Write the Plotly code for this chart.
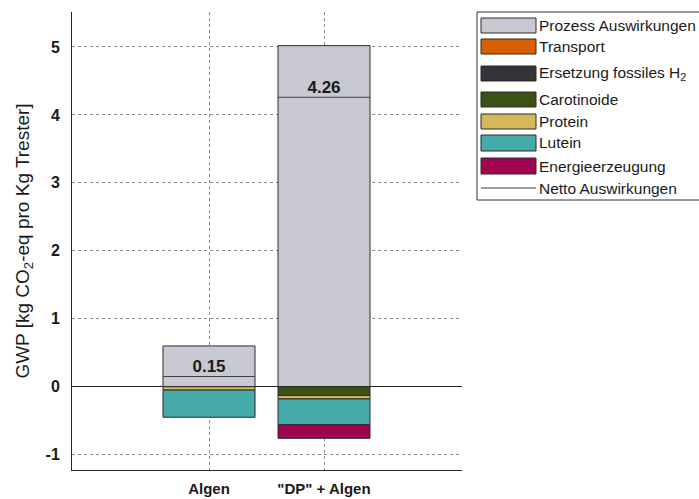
import plotly.graph_objects as go

# ---------------- data ----------------
categories = ["Algen", '"DP" + Algen']
series_names = ["Prozess Auswirkungen", "Transport", "Ersetzung fossiles H<sub>2</sub>",
                "Carotinoide", "Protein", "Lutein", "Energieerzeugung"]
prozess = [0.60, 5.02]
transport = [None, None]
ersetzung = [None, None]
carotinoide = [None, -0.13]
protein = [-0.05, -0.05]
lutein = [-0.40, -0.38]
energie = [None, -0.20]
y_ticks = [-1, 0, 1, 2, 3, 4, 5]

series_values = [prozess, transport, ersetzung, carotinoide, protein, lutein, energie]
colors = ["#C8C8D3", "#D66000", "#333338", "#3A5314", "#D5B75C", "#47AAAB", "#A00550"]

xpos = [1, 2]
bar_w = 0.8
net = [round(sum(v for v in col if v is not None), 2) for col in zip(*series_values)]

fig = go.Figure()
for name, vals, c in zip(series_names, series_values, colors):
    fig.add_trace(go.Bar(x=xpos, y=vals, name=name, width=bar_w, marker_color=c,
                         marker_line=dict(color="#2b2b2b", width=1), showlegend=False))

# net lines
lx, ly = [], []
for x, n in zip(xpos, net):
    lx += [x - bar_w / 2, x + bar_w / 2, None]
    ly += [n, n, None]
fig.add_trace(go.Scatter(x=lx, y=ly, mode="lines", line=dict(color="#404040", width=1),
                         showlegend=False, hoverinfo="skip"))
fig.add_trace(go.Scatter(x=xpos, y=net, mode="text", text=[f"<b>{n:.2f}</b>" for n in net],
                         textposition="top center",
                         textfont=dict(family="Arial", size=17, color="#1a1a1a"),
                         showlegend=False, hoverinfo="skip"))

# ---------------- layout ----------------
L, R, T, B = 72, 462, 12, 470
W, H = 699, 499

def px_x(p):
    return (p - L) / (R - L)

def px_y(p):
    return (B - p) / (B - T)

shapes = [dict(type="rect", xref="paper", yref="paper", x0=px_x(477), x1=px_x(730),
               y0=px_y(200), y1=px_y(12), line=dict(color="#333333", width=1),
               fillcolor="white", layer="above")]
annotations = []
rows = [(18, 33), (39, 54), (66, 81), (92, 107), (114, 129), (135, 151), (158, 174)]
for (t, b), name, c in zip(rows, series_names, colors):
    shapes.append(dict(type="rect", xref="paper", yref="paper", x0=px_x(481), x1=px_x(536),
                       y0=px_y(b), y1=px_y(t), fillcolor=c,
                       line=dict(color="#2b2b2b", width=1), layer="above"))
    annotations.append(dict(xref="paper", yref="paper", x=px_x(537), y=px_y((t + b) / 2),
                            text=name, showarrow=False, xanchor="left", yanchor="middle",
                            font=dict(family="Arial", size=15.5, color="#1a1a1a")))
shapes.append(dict(type="line", xref="paper", yref="paper", x0=px_x(481), x1=px_x(536),
                   y0=px_y(188), y1=px_y(188), line=dict(color="#404040", width=1), layer="above"))
annotations.append(dict(xref="paper", yref="paper", x=px_x(537), y=px_y(188),
                        text="Netto Auswirkungen", showarrow=False, xanchor="left", yanchor="middle",
                        font=dict(family="Arial", size=15.5, color="#1a1a1a")))

fig.update_layout(
    width=W, height=H,
    margin=dict(l=L, r=W - R, t=T, b=H - B, pad=0),
    paper_bgcolor="white", plot_bgcolor="white",
    barmode="relative",
    shapes=shapes, annotations=annotations,
    font=dict(family="Arial", color="#1a1a1a"),
)
fig.update_xaxes(
    range=[1 - (209 - L) / 115, 2 + (R - 324) / 115],
    tickvals=xpos, ticktext=[f"<b>{c}</b>" for c in categories],
    tickfont=dict(family="Arial", size=15, color="#1a1a1a"),
    showgrid=True, gridcolor="#8a8a8a", griddash="dot", gridwidth=1,
    showline=True, linecolor="#262626", linewidth=1, ticks="", zeroline=False,
    ticklabelstandoff=5, automargin=False,
)
fig.update_yaxes(
    range=[-1.226, 5.515],
    tickvals=y_ticks, ticktext=[f"<b>{v}</b>" for v in y_ticks],
    tickfont=dict(family="Arial", size=16, color="#1a1a1a"),
    showgrid=True, gridcolor="#8a8a8a", griddash="dot", gridwidth=1,
    zeroline=True, zerolinecolor="#262626", zerolinewidth=1,
    showline=True, linecolor="#262626", linewidth=1, ticks="",
    ticklabelstandoff=8, automargin=False,
    title=dict(text="GWP [kg CO<sub>2</sub>-eq pro Kg Trester]",
               font=dict(family="Arial", size=19, color="#1a1a1a"), standoff=10),
)

fig.write_html("out.html")
